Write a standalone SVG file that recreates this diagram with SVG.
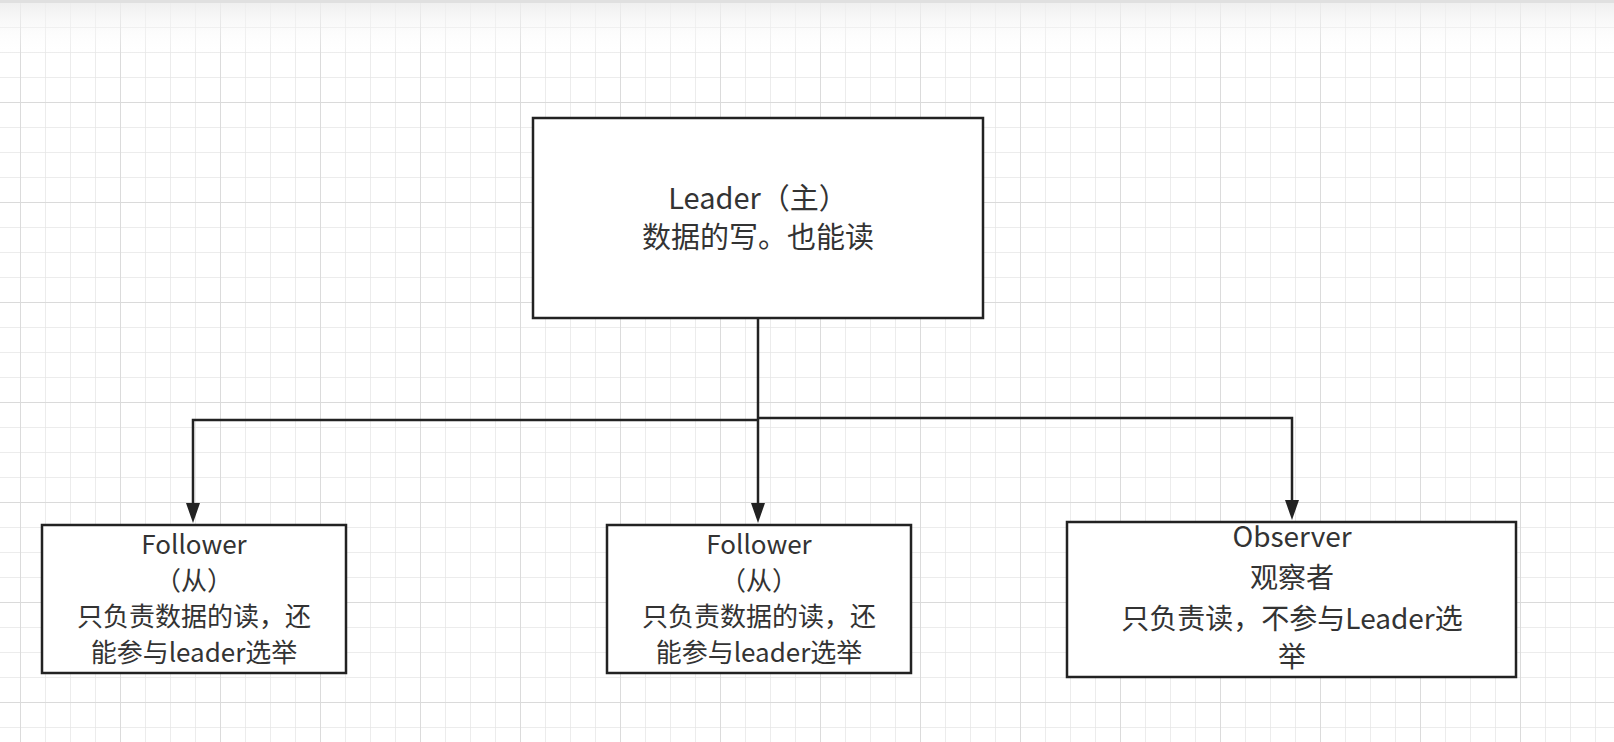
<svg xmlns="http://www.w3.org/2000/svg" width="1614" height="742" viewBox="0 0 1614 742">
  <defs>
    <pattern id="gridMinor" x="20" y="2" width="25" height="25" patternUnits="userSpaceOnUse">
      <path d="M0 0H25M0 0V25" fill="none" stroke="#e6e6e6" stroke-width="1.5"/>
    </pattern>
    <pattern id="gridMajor" x="20" y="2" width="100" height="100" patternUnits="userSpaceOnUse">
      <path d="M0 0H100M0 0V100" fill="none" stroke="#dadada" stroke-width="1.8"/>
    </pattern>
    <linearGradient id="topShade" x1="0" y1="0" x2="0" y2="1">
      <stop offset="0" stop-color="#ececec" stop-opacity="0.9"/>
      <stop offset="1" stop-color="#ffffff" stop-opacity="0"/>
    </linearGradient>
    <!-- filled arrowhead; tip sits 17px beyond the path end -->
    <marker id="arrow" viewBox="0 0 20 14" refX="3" refY="7" markerWidth="20" markerHeight="14" markerUnits="userSpaceOnUse" orient="auto">
      <path d="M0 0L20 7L0 14Z" fill="#222"/>
    </marker>
    <style>
      .box { fill: #ffffff; stroke: #222; stroke-width: 2.5; }
      .label { font-family: "Noto Sans CJK SC", "Noto Sans", sans-serif; fill: #333; text-anchor: middle; }
      .conn { fill: none; stroke: #222; stroke-width: 2.5; }
    </style>
  </defs>

  <!-- canvas background with grid -->
  <rect width="1614" height="742" fill="#ffffff"/>
  <rect width="1614" height="742" fill="url(#gridMinor)"/>
  <rect width="1614" height="742" fill="url(#gridMajor)"/>
  <rect width="1614" height="55" fill="url(#topShade)"/>
  <rect width="1614" height="3" fill="#e0e0e0"/>

  <!-- connectors -->
  <g id="connectors">
    <path class="conn" d="M758 318V420"/>
    <path class="conn" d="M758 420H193V506" marker-end="url(#arrow)"/>
    <path class="conn" d="M758 420V506" marker-end="url(#arrow)"/>
    <path class="conn" d="M758 418H1292V503" marker-end="url(#arrow)"/>
  </g>

  <!-- Leader node -->
  <g id="leader">
    <rect class="box" x="533" y="118" width="450" height="200"/>
    <text class="label" font-size="29" x="758" y="209">Leader（主）</text>
    <text class="label" font-size="29" x="758" y="248">数据的写。也能读</text>
  </g>

  <!-- Follower node 1 -->
  <g id="follower1">
    <rect class="box" x="42" y="525" width="304" height="148"/>
    <text class="label" font-size="26" x="194" y="554">Follower</text>
    <text class="label" font-size="26" x="194" y="590">（从）</text>
    <text class="label" font-size="26" x="194" y="626">只负责数据的读，还</text>
    <text class="label" font-size="26" x="194" y="662">能参与leader选举</text>
  </g>

  <!-- Follower node 2 -->
  <g id="follower2">
    <rect class="box" x="607" y="525" width="304" height="148"/>
    <text class="label" font-size="26" x="759" y="554">Follower</text>
    <text class="label" font-size="26" x="759" y="590">（从）</text>
    <text class="label" font-size="26" x="759" y="626">只负责数据的读，还</text>
    <text class="label" font-size="26" x="759" y="662">能参与leader选举</text>
  </g>

  <!-- Observer node -->
  <g id="observer">
    <rect class="box" x="1067" y="522" width="449" height="155"/>
    <text class="label" font-size="28" x="1292" y="547">Observer</text>
    <text class="label" font-size="28" x="1292" y="588">观察者</text>
    <text class="label" font-size="28" x="1292" y="629">只负责读，不参与Leader选</text>
    <text class="label" font-size="28" x="1292" y="667">举</text>
  </g>
</svg>
